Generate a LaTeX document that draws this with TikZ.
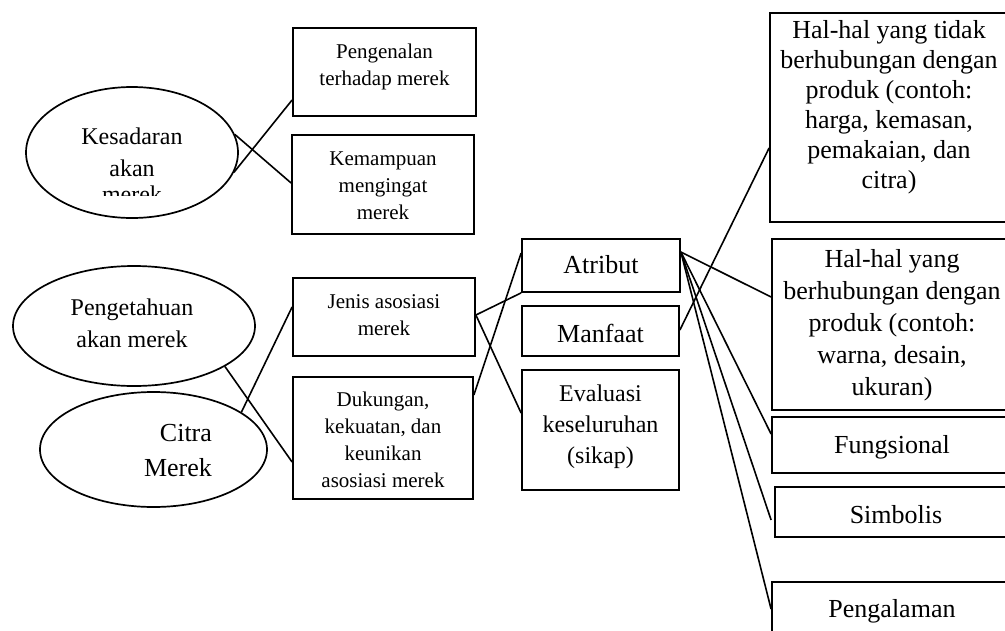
\documentclass[tikz,border=0pt]{standalone}
\usepackage{fontspec}
\setmainfont{Liberation Serif}
\usetikzlibrary{shapes.geometric}
\tikzset{
  box/.style={draw, rectangle, line width=1.8pt, inner sep=0pt},
  ell/.style={draw, ellipse, line width=1.7pt, inner sep=0pt},
  conn/.style={line width=1.6pt},
  txt/.style={inner sep=0pt, align=center, execute at begin node=\strut, execute at end node=\strut},
  txs/.style={txt, font=\fontsize{21}{27}\selectfont},
  txm/.style={txt, font=\fontsize{24}{32}\selectfont},
  txl/.style={txt, font=\fontsize{26}{30}\selectfont},
}
\begin{document}
\begin{tikzpicture}[x=1pt,y=-1pt]
\useasboundingbox (0,0) rectangle (1005,630);
\clip (0,0) rectangle (1005,630);

% ellipses
\node[ell, minimum width=212pt, minimum height=131pt] (e1) at (132,152.5) {};
\begin{scope}
  \clip (20,90) rectangle (250,195);
  \node[txm] (e1t) at (132,169.5) {Kesadaran\\akan\\[-6pt]merek};
\end{scope}
\node[ell, minimum width=242pt, minimum height=120pt] (e2) at (134,326) {};
\node[txm] (e2t) at (132,327.6) {Pengetahuan\\akan merek};
\node[ell, minimum width=227pt, minimum height=115pt] (e3) at (153.5,449.5) {};
\node[txt, align=right, font=\fontsize{26}{35}\selectfont] (e3t) at (178,455.5) {Citra\\Merek};

% left boxes
\node[box, minimum width=183pt, minimum height=88pt] (pengen) at (384.5,72) {};
\node[txs] (pengent) at (384.5,68.6) {Pengenalan\\terhadap merek};
\node[box, minimum width=182pt, minimum height=99pt] (kemamp) at (383,184.5) {};
\node[txs] (kemampt) at (383,189.6) {Kemampuan\\mengingat\\merek};
\node[box, minimum width=182pt, minimum height=78pt] (jenis) at (384,317) {};
\node[txs] (jenist) at (384,319.1) {Jenis asosiasi\\merek};
\node[box, minimum width=180pt, minimum height=122pt] (dukung) at (383,438) {};
\node[txs] (dukungt) at (383,444.1) {Dukungan,\\kekuatan, dan\\keunikan\\asosiasi merek};

% middle boxes
\node[box, minimum width=158pt, minimum height=53pt] (atribut) at (601,265.5) {};
\node[txl] (atributt) at (601,267) {Atribut};
\node[box, minimum width=157pt, minimum height=50pt] (manfaat) at (600.5,331) {};
\node[txl] (manfaatt) at (600.5,336) {Manfaat};
\node[box, minimum width=157pt, minimum height=120pt] (evalu) at (600.5,430) {};
\node[txt, font=\fontsize{24}{31}\selectfont] (evalut) at (600.5,428.8) {Evaluasi\\keseluruhan\\(sikap)};

% right boxes (their right edges lie beyond the picture)
\node[box, minimum width=245pt, minimum height=209pt] (hal1) at (892.5,117.5) {};
\node[txl] (hal1t) at (889,109) {Hal-hal yang tidak\\berhubungan dengan\\produk (contoh:\\harga, kemasan,\\pemakaian, dan\\citra)};
\node[box, minimum width=243pt, minimum height=171pt] (hal2) at (893.5,324.5) {};
\node[txt, font=\fontsize{26}{32}\selectfont] (hal2t) at (892,327.6) {Hal-hal yang\\berhubungan dengan\\produk (contoh:\\warna, desain,\\ukuran)};
\node[box, minimum width=243pt, minimum height=56pt] (fungs) at (893.5,445) {};
\node[txl] (fungst) at (892,447) {Fungsional};
\node[box, minimum width=240pt, minimum height=50pt] (simb) at (895,512) {};
\node[txl] (simbt) at (896,517) {Simbolis};
\node[box, minimum width=243pt, minimum height=63pt] (pengal) at (893.5,613.5) {};
\node[txl] (pengalt) at (892,611) {Pengalaman};

% connectors
\draw[conn] (e1.-11) -- ([yshift=-28pt]pengen.west);
\draw[conn] (e1.10) -- ([yshift=1.5pt]kemamp.west);
\draw[conn] (e2.-24) -- ([yshift=-24pt]dukung.west);
\draw[conn] (e3.23) -- ([yshift=10pt]jenis.west);
\draw[conn] ([yshift=2pt]jenis.east) -- (atribut.south west);
\draw[conn] ([yshift=2pt]jenis.east) -- ([yshift=17pt]evalu.west);
\draw[conn] ([yshift=43pt]dukung.east) -- ([yshift=12.5pt]atribut.west);
\draw[conn] ([yshift=1pt]manfaat.east) -- ([yshift=-30.5pt]hal1.west);
\coordinate (ar) at ([yshift=13.5pt]atribut.east);
\draw[conn] (ar) -- ([yshift=27.5pt]hal2.west);
\draw[conn] (ar) -- ([yshift=11pt]fungs.west);
\draw[conn] (ar) -- ([xshift=-3pt,yshift=-8pt]simb.west);
\draw[conn] (ar) -- ([yshift=-28pt]pengal.north west);
\end{tikzpicture}
\end{document}
